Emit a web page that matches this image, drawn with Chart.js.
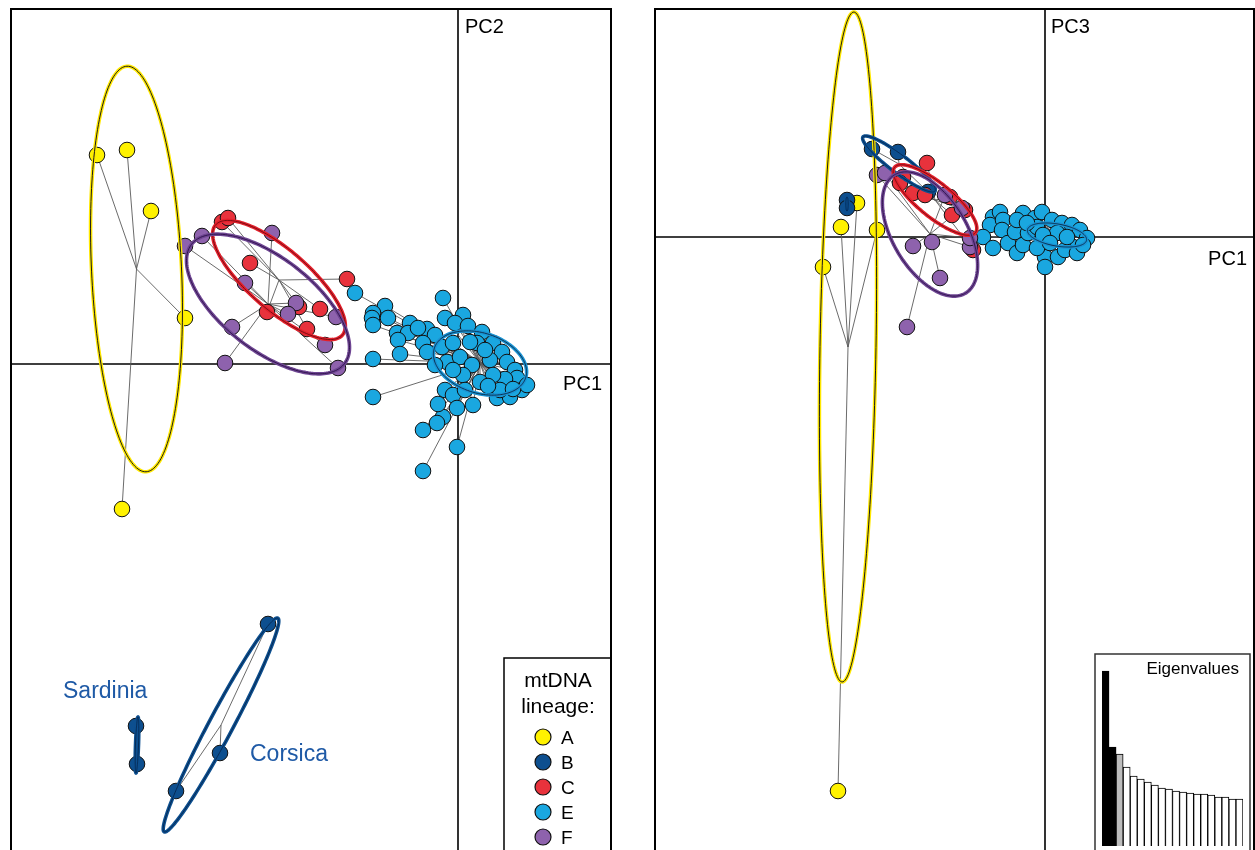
<!DOCTYPE html>
<html lang="en">
<head>
<meta charset="UTF-8" />
<title>PCA of mtDNA lineages</title>
<script src="https://cdn.jsdelivr.net/npm/chart.js"></script>
<style>
  body {
    margin: 0;
    width: 1255px;
    height: 850px;
    overflow: hidden;
    position: relative;
    background: #fff;
    font-family: "Liberation Sans", Arial, sans-serif;
  }
  .panel { position: absolute; }
  #leftBox  { left: 10px;   top: 8px;   width: 602px; height: 842px; }
  #rightBox { left: 654px;  top: 8px;   width: 601px; height: 842px; }
  #eigBox   { left: 1094px; top: 653px; width: 157px; height: 197px; background: #fff; }
</style>
</head>
<body>

<div class="panel" id="leftBox"><canvas id="pc12"></canvas></div>
<div class="panel" id="rightBox"><canvas id="pc13"></canvas></div>
<div class="panel" id="eigBox"><canvas id="eig"></canvas></div>

<script>
  // ---- data ----
  const lineages = ['A', 'B', 'C', 'E', 'F'];

  // PC1 / PC2 scores (left panel)
  const pc12_A = [[-3.61, 2.09], [-3.31, 2.14], [-3.07, 1.53], [-2.73, 0.46], [-3.36, -1.45]];
  const pc12_Bsard = [[-3.22, -3.62], [-3.21, -4.00]];
  const pc12_Bcors = [[-1.90, -2.60], [-2.38, -3.89], [-2.82, -4.27]];
  const pc12_C = [[-2.36, 1.42], [-2.30, 1.46], [-2.08, 1.01], [-1.11, 0.85], [-1.91, 0.52],
                  [-1.59, 0.57], [-1.38, 0.55], [-1.51, 0.35]];
  const pc12_F = [[-2.73, 1.18], [-2.56, 1.28], [-1.86, 1.31], [-2.13, 0.81], [-1.62, 0.61],
                  [-1.70, 0.50], [-1.22, 0.47], [-2.26, 0.37], [-1.33, 0.19], [-2.33, 0.01], [-1.20, -0.04]];
  const pc12_E = [[-1.03, 0.71], [-0.15, 0.66], [-0.73, 0.58], [-0.85, 0.51], [-0.86, 0.46], [-0.85, 0.39],
                  [-0.70, 0.46], [-0.48, 0.41], [-0.61, 0.31], [-0.50, 0.31], [-0.60, 0.24], [-0.31, 0.35],
                  [-0.23, 0.29], [-0.35, 0.21], [-0.31, 0.12], [-0.58, 0.10], [-0.85, 0.05], [-0.13, 0.46],
                  [0.05, 0.49], [-0.03, 0.41], [0.10, 0.38], [0.24, 0.32], [-0.16, 0.17], [-0.05, 0.21],
                  [0.19, 0.21], [0.35, 0.21], [0.44, 0.12], [-0.11, 0.02], [0.02, 0.07], [0.14, -0.01],
                  [0.32, 0.04], [0.49, 0.02], [0.57, -0.06], [0.59, -0.14], [0.47, -0.15], [0.35, -0.11],
                  [0.22, -0.18], [0.05, -0.11], [-0.05, -0.06], [-0.13, -0.26], [-0.05, -0.31], [-0.01, -0.44],
                  [0.15, -0.41], [0.39, -0.34], [0.52, -0.33], [0.64, -0.26], [0.69, -0.21], [-0.85, -0.33],
                  [-0.15, -0.53], [-0.21, -0.59], [-0.35, -0.66], [-0.01, -0.83], [-0.35, -1.07],
                  [0.27, 0.14], [0.07, -0.26], [0.42, -0.26], [-0.23, -0.01], [0.30, -0.22], [0.55, -0.25],
                  [0.12, 0.22], [-0.40, 0.36], [-0.20, -0.40]];

  // group centre and ellipse: [cx, cy, semi-major, semi-minor, angle in degrees]
  const ell12_A = [-3.215, 0.95, 2.03, 0.45, 92.7];
  const ell12_Bsard = [-3.21, -3.81, 0.28, 0.015, 88];
  const ell12_Bcors = [-2.37, -3.61, 1.21, 0.12, 62];
  const ell12_C = [-1.79, 0.84, 0.84, 0.30, -41];
  const ell12_E = [0.22, 0.01, 0.48, 0.30, -18];
  const ell12_F = [-1.90, 0.60, 0.97, 0.46, -38];

  // PC1 / PC3 scores (right panel)
  const pc13_A = [[-1.88, 0.34], [-2.04, 0.10], [-1.68, 0.07], [-2.22, -0.30], [-2.07, -5.54]];
  const pc13_Bsard = [[-1.98, 0.37], [-1.98, 0.29]];
  const pc13_Bcors = [[-1.73, 0.88], [-1.47, 0.85], [-1.17, 0.45]];
  const pc13_C = [[-1.18, 0.74], [-1.42, 0.60], [-1.45, 0.54], [-1.32, 0.44], [-1.20, 0.42],
                  [-0.95, 0.40], [-0.93, 0.22], [-0.80, 0.27], [-0.72, -0.13]];
  const pc13_F = [[-1.68, 0.62], [-1.60, 0.64], [-1.00, 0.42], [-0.83, 0.29], [-1.32, -0.09],
                  [-1.13, -0.05], [-1.05, -0.41], [-1.38, -0.90], [-0.75, -0.10], [-0.75, -0.01]];
  const pc13_E = [[-0.52, 0.20], [-0.45, 0.25], [-0.55, 0.12], [-0.42, 0.17], [-0.43, 0.07], [-0.62, 0.00],
                  [-0.52, -0.11], [-0.37, -0.06], [-0.30, 0.05], [-0.28, -0.16], [-0.22, -0.08], [-0.17, 0.04],
                  [-0.22, 0.24], [-0.10, 0.19], [-0.03, 0.25], [-0.08, 0.10], [0.00, -0.20], [0.00, -0.30],
                  [0.13, -0.20], [0.07, 0.17], [0.17, 0.14], [0.27, 0.12], [0.35, 0.07], [0.42, -0.01],
                  [0.28, -0.10], [0.20, -0.13], [0.12, 0.04], [-0.02, 0.02], [0.22, 0.00], [0.32, -0.16],
                  [-0.08, -0.11], [0.05, -0.06], [0.38, -0.08], [-0.28, 0.17], [-0.18, 0.14]];

  const ell13_A = [-1.97, -1.10, 3.35, 0.28, 89];
  const ell13_Bsard = [-1.98, 0.33, 0.07, 0.012, 90];
  const ell13_Bcors = [-1.46, 0.73, 0.45, 0.09, -37];
  const ell13_C = [-1.10, 0.37, 0.52, 0.17, -39];
  const ell13_E = [0.12, 0.02, 0.30, 0.11, -10];
  const ell13_F = [-1.15, 0.03, 0.69, 0.37, -59];

  // eigenvalue bar inset
  const eigenvalues = [1.75, 0.99, 0.92, 0.79, 0.70, 0.67, 0.64, 0.61, 0.58, 0.57,
                       0.55, 0.54, 0.53, 0.52, 0.52, 0.51, 0.49, 0.49, 0.47, 0.47];

  // ---- styles ----
  const fill = { A: '#fff200', B: '#0d4f8f', C: '#e8323c', E: '#1aa7e0', F: '#8e62ad' };
  const ringOuter = { A: '#ffe800', B: '#0d4f8f', C: '#e3202c', E: '#1a93d3', F: '#6e4592' };
  const ringInner = { A: '#1a1a1a', B: '#052a55', C: '#7a0c12', E: '#0b3152', F: '#331650' };
  const stack = { A: 5, B: 4, C: 3, E: 2, F: 1 };
  const FONT = '"Liberation Sans", Arial, sans-serif';

  const leftGroups = [
    { lin: 'A', pts: pc12_A, ell: ell12_A },
    { lin: 'B', pts: pc12_Bsard, ell: ell12_Bsard },
    { lin: 'B', pts: pc12_Bcors, ell: ell12_Bcors },
    { lin: 'C', pts: pc12_C, ell: ell12_C },
    { lin: 'E', pts: pc12_E, ell: ell12_E },
    { lin: 'F', pts: pc12_F, ell: ell12_F }
  ];
  const rightGroups = [
    { lin: 'A', pts: pc13_A, ell: ell13_A },
    { lin: 'B', pts: pc13_Bsard, ell: ell13_Bsard },
    { lin: 'B', pts: pc13_Bcors, ell: ell13_Bcors },
    { lin: 'C', pts: pc13_C, ell: ell13_C },
    { lin: 'E', pts: pc13_E, ell: ell13_E },
    { lin: 'F', pts: pc13_F, ell: ell13_F }
  ];

  function ellipsePath(ctx, xs, ys, e) {
    const [cx, cy, a, b, deg] = e;
    const t = deg * Math.PI / 180;
    ctx.beginPath();
    for (let i = 0; i <= 180; i++) {
      const u = i / 180 * 2 * Math.PI;
      const dx = a * Math.cos(u), dy = b * Math.sin(u);
      const px = xs.getPixelForValue(cx + dx * Math.cos(t) - dy * Math.sin(t));
      const py = ys.getPixelForValue(cy + dx * Math.sin(t) + dy * Math.cos(t));
      if (i === 0) ctx.moveTo(px, py); else ctx.lineTo(px, py);
    }
    ctx.closePath();
  }

  // axes cross + star lines under the points, ellipses over them
  function starPlugin(groups) {
    return {
      id: 'stars',
      beforeDatasetsDraw(chart) {
        const { ctx, chartArea: ca, scales: { x, y } } = chart;
        ctx.save();
        ctx.strokeStyle = '#000';
        ctx.lineWidth = 1.6;
        ctx.beginPath();
        ctx.moveTo(ca.left, y.getPixelForValue(0));
        ctx.lineTo(ca.right, y.getPixelForValue(0));
        ctx.moveTo(x.getPixelForValue(0), ca.top);
        ctx.lineTo(x.getPixelForValue(0), ca.bottom);
        ctx.stroke();

        ctx.strokeStyle = '#5a5a5a';
        ctx.lineWidth = 0.9;
        groups.forEach(g => {
          const hx = x.getPixelForValue(g.ell[0]), hy = y.getPixelForValue(g.ell[1]);
          ctx.beginPath();
          g.pts.forEach(p => {
            ctx.moveTo(hx, hy);
            ctx.lineTo(x.getPixelForValue(p[0]), y.getPixelForValue(p[1]));
          });
          ctx.stroke();
        });
        ctx.restore();
      },
      afterDatasetsDraw(chart) {
        const { ctx, scales: { x, y } } = chart;
        ctx.save();
        groups.forEach(g => {
          ellipsePath(ctx, x, y, g.ell);
          ctx.strokeStyle = ringOuter[g.lin];
          ctx.lineWidth = 3.6;
          ctx.stroke();
          ctx.strokeStyle = ringInner[g.lin];
          ctx.lineWidth = 1;
          ctx.stroke();
        });
        ctx.restore();
      }
    };
  }

  function framePlugin(drawExtra) {
    return {
      id: 'frame',
      afterDraw(chart) {
        const { ctx, chartArea: ca } = chart;
        ctx.save();
        ctx.strokeStyle = '#000';
        ctx.lineWidth = 2;
        ctx.strokeRect(ca.left + 1, ca.top + 1, ca.right - ca.left - 2, ca.bottom - ca.top + 20);
        drawExtra(chart, ctx, ca);
        ctx.restore();
      }
    };
  }

  function panel(id, groups, xr, yr, extra) {
    return new Chart(document.getElementById(id), {
      type: 'scatter',
      data: {
        datasets: groups.map(g => ({
          label: g.lin,
          data: g.pts.map(p => ({ x: p[0], y: p[1] })),
          backgroundColor: fill[g.lin],
          borderColor: '#111',
          borderWidth: 1,
          pointRadius: 7.8,
          order: stack[g.lin]
        }))
      },
      options: {
        responsive: true,
        maintainAspectRatio: false,
        devicePixelRatio: 1,
        animation: false,
        events: [],
        layout: { padding: 0, autoPadding: false },
        plugins: { legend: { display: false }, tooltip: { enabled: false } },
        scales: {
          x: { type: 'linear', display: false, min: xr[0], max: xr[1] },
          y: { type: 'linear', display: false, min: yr[0], max: yr[1] }
        }
      },
      plugins: [starPlugin(groups), framePlugin(extra)]
    });
  }

  panel('pc12', leftGroups, [-4.48, 1.54], [-4.86, 3.56], (chart, ctx, ca) => {
    const { x, y } = chart.scales;
    ctx.fillStyle = '#000';
    ctx.font = '20px ' + FONT;
    ctx.textAlign = 'left';
    ctx.fillText('PC2', x.getPixelForValue(0) + 7, ca.top + 25);
    ctx.textAlign = 'right';
    ctx.fillText('PC1', ca.right - 10, y.getPixelForValue(0) + 26);

    // island labels for lineage B
    ctx.fillStyle = '#1f5aa6';
    ctx.font = '23px ' + FONT;
    ctx.textAlign = 'left';
    ctx.fillText('Sardinia', x.getPixelForValue(-3.95), y.getPixelForValue(-3.34));
    ctx.fillText('Corsica', x.getPixelForValue(-2.08), y.getPixelForValue(-3.97));

    // legend box
    const lx = 494, ly = 650;
    ctx.strokeStyle = '#000';
    ctx.lineWidth = 1.5;
    ctx.beginPath();
    ctx.moveTo(lx, ca.bottom + 5);
    ctx.lineTo(lx, ly);
    ctx.lineTo(ca.right, ly);
    ctx.stroke();
    ctx.fillStyle = '#000';
    ctx.font = '21px ' + FONT;
    ctx.textAlign = 'center';
    ctx.fillText('mtDNA', 548, 679);
    ctx.fillText('lineage:', 548, 705);
    ctx.font = '19px ' + FONT;
    ctx.textAlign = 'left';
    lineages.forEach((l, i) => {
      const cy = 729 + i * 25;
      ctx.beginPath();
      ctx.arc(533, cy, 8, 0, 2 * Math.PI);
      ctx.fillStyle = fill[l];
      ctx.fill();
      ctx.lineWidth = 1.2;
      ctx.strokeStyle = '#111';
      ctx.stroke();
      ctx.fillStyle = '#000';
      ctx.fillText(l, 551, cy + 7);
    });
  });

  panel('pc13', rightGroups, [-3.91, 2.10], [-6.13, 2.29], (chart, ctx, ca) => {
    const { x, y } = chart.scales;
    ctx.fillStyle = '#000';
    ctx.font = '20px ' + FONT;
    ctx.textAlign = 'left';
    ctx.fillText('PC3', x.getPixelForValue(0) + 6, ca.top + 25);
    ctx.textAlign = 'right';
    ctx.fillText('PC1', ca.right - 8, y.getPixelForValue(0) + 28);
  });

  new Chart(document.getElementById('eig'), {
    type: 'bar',
    data: {
      labels: eigenvalues.map((v, i) => i + 1),
      datasets: [{
        data: eigenvalues,
        backgroundColor: eigenvalues.map((v, i) => i < 2 ? '#000' : (i === 2 ? '#bdbdbd' : '#fff')),
        borderColor: '#000',
        borderWidth: 1,
        barPercentage: 1,
        categoryPercentage: 1
      }]
    },
    options: {
      responsive: true,
      maintainAspectRatio: false,
      devicePixelRatio: 1,
      animation: false,
      events: [],
      layout: { padding: { left: 8, right: 8, top: 3, bottom: 4 }, autoPadding: false },
      plugins: { legend: { display: false }, tooltip: { enabled: false } },
      scales: {
        x: { display: false },
        y: { display: false, min: 0, max: 1.9 }
      }
    },
    plugins: [{
      id: 'eigFrame',
      afterDraw(chart) {
        const { ctx, width, height } = chart;
        ctx.save();
        ctx.strokeStyle = '#333';
        ctx.lineWidth = 1.5;
        ctx.strokeRect(1, 1, width - 2, height + 5);
        ctx.fillStyle = '#000';
        ctx.font = '17px ' + FONT;
        ctx.textAlign = 'right';
        ctx.fillText('Eigenvalues', width - 12, 21);
        ctx.restore();
      }
    }]
  });
</script>

</body>
</html>
